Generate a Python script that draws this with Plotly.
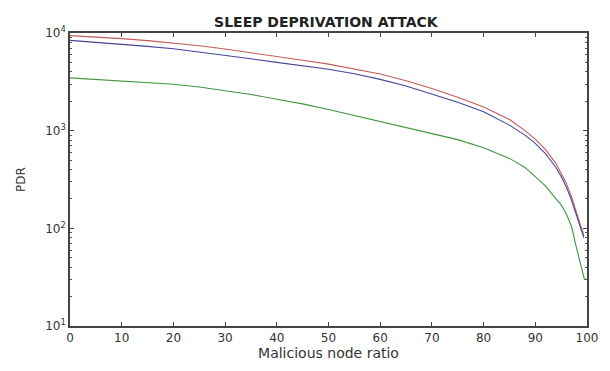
import plotly.graph_objects as go

x_rb = [0, 5, 10, 15, 20, 25, 30, 35, 40, 45, 50, 55, 60, 65, 70, 75, 80, 85, 88, 90, 92, 94, 95, 96, 97, 98, 98.5, 99, 99.4]
red = [9400, 9100, 8750, 8350, 7900, 7400, 6850, 6300, 5750, 5250, 4800, 4300, 3800, 3250, 2700, 2200, 1750, 1300, 1000, 820, 640, 460, 370, 290, 210, 145, 115, 95, 84]
blue = [8400, 8050, 7650, 7300, 6900, 6400, 5900, 5450, 5000, 4600, 4250, 3820, 3350, 2870, 2380, 1950, 1560, 1140, 900, 740, 580, 420, 340, 265, 195, 135, 108, 90, 80]

x_g = [0, 5, 10, 15, 20, 25, 30, 35, 40, 45, 50, 55, 60, 65, 70, 75, 80, 85, 88, 90, 92, 94, 95, 96, 97, 98, 98.5, 99, 99.5, 100]
green = [3470, 3350, 3230, 3100, 2990, 2800, 2570, 2350, 2100, 1880, 1650, 1430, 1250, 1090, 940, 810, 670, 520, 420, 340, 270, 200, 174, 140, 105, 62, 48, 36, 30, 30]

x_ticks = [0, 10, 20, 30, 40, 50, 60, 70, 80, 90, 100]
y_ticks = [10, 100, 1000, 10000]
y_ticktext = ["10<sup>1</sup>", "10<sup>2</sup>", "10<sup>3</sup>", "10<sup>4</sup>"]
y_minor = [20, 30, 40, 50, 60, 70, 80, 90, 200, 300, 400, 500, 600, 700, 800, 900,
           2000, 3000, 4000, 5000, 6000, 7000, 8000, 9000]

FONT = "DejaVu Sans, Verdana, sans-serif"

fig = go.Figure()
fig.add_trace(go.Scatter(x=x_rb, y=red, mode="lines", line=dict(color="#c55a5a", width=1.1), showlegend=False))
fig.add_trace(go.Scatter(x=x_rb, y=blue, mode="lines", line=dict(color="#45459a", width=1.1), showlegend=False))
fig.add_trace(go.Scatter(x=x_g, y=green, mode="lines", line=dict(color="#3f963f", width=1.1), showlegend=False))

tick_font = dict(family=FONT, size=12, color="#333")

fig.update_layout(
    width=602, height=363,
    margin=dict(l=59, r=13, t=25, b=32),
    paper_bgcolor="white", plot_bgcolor="white",
    title=dict(text="<b>SLEEP DEPRIVATION ATTACK</b>", xref="paper", x=0.495, xanchor="center",
               yref="container", y=1 - 14 / 363, yanchor="middle",
               font=dict(family=FONT, size=14, color="#222")),
    xaxis=dict(range=[0, 100], tickvals=x_ticks, ticktext=[str(v) for v in x_ticks],
               ticks="inside", ticklen=4, tickcolor="#444", showgrid=False, zeroline=False,
               showline=True, linecolor="#444", linewidth=1.5, mirror="ticks",
               tickfont=tick_font,
               title=dict(text="Malicious node ratio", standoff=4,
                          font=dict(family=FONT, size=14, color="#333"))),
    yaxis=dict(type="log", range=[1, 4], tickvals=y_ticks, ticktext=y_ticktext,
               ticks="inside", ticklen=4, tickcolor="#444", showgrid=False, zeroline=False,
               showline=True, linecolor="#444", linewidth=1.5, mirror="ticks",
               tickfont=tick_font,
               minor=dict(ticks="inside", ticklen=2.5, tickcolor="#555", tickvals=y_minor, showgrid=False),
               title=dict(text="PDR", standoff=17,
                          font=dict(family=FONT, size=12, color="#333"))),
)

fig.write_html("out.html")
